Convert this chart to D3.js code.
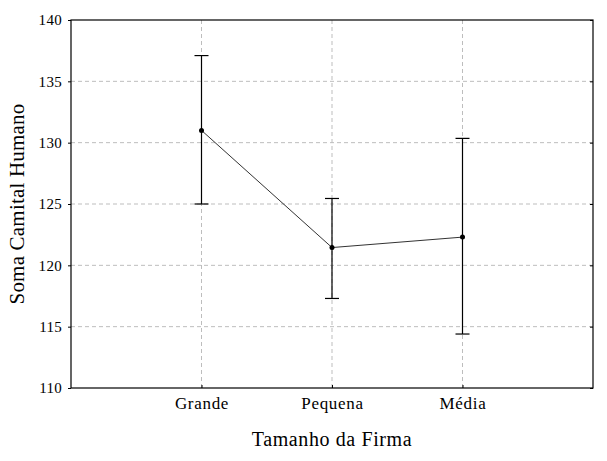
<!DOCTYPE html>
<html><head><meta charset="utf-8">
<script src="https://cdn.jsdelivr.net/npm/d3@7"></script>
<style>
body{margin:0;background:#fff;}
svg text{font-family:"Liberation Serif",serif !important;fill:#000;}
</style></head>
<body><svg id="c" width="607" height="461"></svg>
<script>
const categories = ["Grande", "Pequena", "Média"];
const means = [131.0, 121.45, 122.3];
const upper = [137.1, 125.45, 130.35];
const lower = [125.0, 117.3, 114.4];
const yTicks = [110, 115, 120, 125, 130, 135, 140];

const svg = d3.select("#c");
const m = {l:71, t:20, r:593, b:388};
const x = d3.scalePoint().domain(categories).range([m.l, m.r]).padding(1);
const y = d3.scaleLinear().domain([110, 140]).range([m.b, m.t]);

// grid
svg.append("g").selectAll("line").data(yTicks.filter(d=>d>110&&d<140)).join("line")
  .attr("x1", m.l).attr("x2", m.r).attr("y1", d=>y(d)).attr("y2", d=>y(d))
  .attr("stroke", "#bdbdbd").attr("stroke-dasharray", "4,3");
svg.append("g").selectAll("line").data(categories).join("line")
  .attr("x1", d=>x(d)).attr("x2", d=>x(d)).attr("y1", m.t).attr("y2", m.b)
  .attr("stroke", "#bdbdbd").attr("stroke-dasharray", "4,3");

// axes
const yAxis = svg.append("g").attr("transform", `translate(${m.l},0)`)
  .call(d3.axisLeft(y).tickValues(yTicks).tickSize(3).tickPadding(6).tickFormat(d3.format("d")));
yAxis.select(".domain").remove();
yAxis.selectAll("text").style("font-size", "15px").attr("letter-spacing", "0.3px");
const yAxisR = svg.append("g").attr("transform", `translate(${m.r},0)`)
  .call(d3.axisLeft(y).tickValues(yTicks).tickSize(3).tickFormat(""));
yAxisR.select(".domain").remove();
const xAxis = svg.append("g").attr("transform", `translate(0,${m.b})`)
  .call(d3.axisTop(x).tickSize(3).tickFormat(""));
xAxis.select(".domain").remove();
const xLab = svg.append("g").attr("transform", `translate(0,${m.b})`)
  .call(d3.axisBottom(x).tickSize(0).tickPadding(9));
xLab.select(".domain").remove();
xLab.selectAll("text").style("font-size", "17px").attr("letter-spacing", "0.7px");

svg.append("rect").attr("x", m.l).attr("y", m.t).attr("width", m.r-m.l).attr("height", m.b-m.t)
  .attr("fill", "none").attr("stroke", "#000").attr("stroke-width", 1.2);

// error bars
const eb = svg.append("g").attr("stroke", "#000").attr("stroke-width", 1.2);
categories.forEach((c,i)=>{
  eb.append("line").attr("x1", x(c)).attr("x2", x(c)).attr("y1", y(upper[i])).attr("y2", y(lower[i]));
  eb.append("line").attr("x1", x(c)-7).attr("x2", x(c)+7).attr("y1", y(upper[i])).attr("y2", y(upper[i]));
  eb.append("line").attr("x1", x(c)-7).attr("x2", x(c)+7).attr("y1", y(lower[i])).attr("y2", y(lower[i]));
});
svg.append("path").datum(categories.map((c,i)=>[x(c), y(means[i])]))
  .attr("d", d3.line()).attr("fill", "none").attr("stroke", "#333").attr("stroke-width", 1);
svg.append("g").selectAll("circle").data(categories).join("circle")
  .attr("cx", d=>x(d)).attr("cy", (d,i)=>y(means[i])).attr("r", 2.5).attr("fill", "#000");

svg.append("text").attr("x", (m.l+m.r)/2).attr("y", 446).attr("text-anchor", "middle")
  .style("font-size", "20px").attr("letter-spacing", "0.6px").text("Tamanho da Firma");
svg.append("text").attr("transform", "translate(24,204) rotate(-90)").attr("text-anchor", "middle")
  .style("font-size", "21px").attr("letter-spacing", "0.2px").text("Soma Camital Humano");
</script></body></html>
